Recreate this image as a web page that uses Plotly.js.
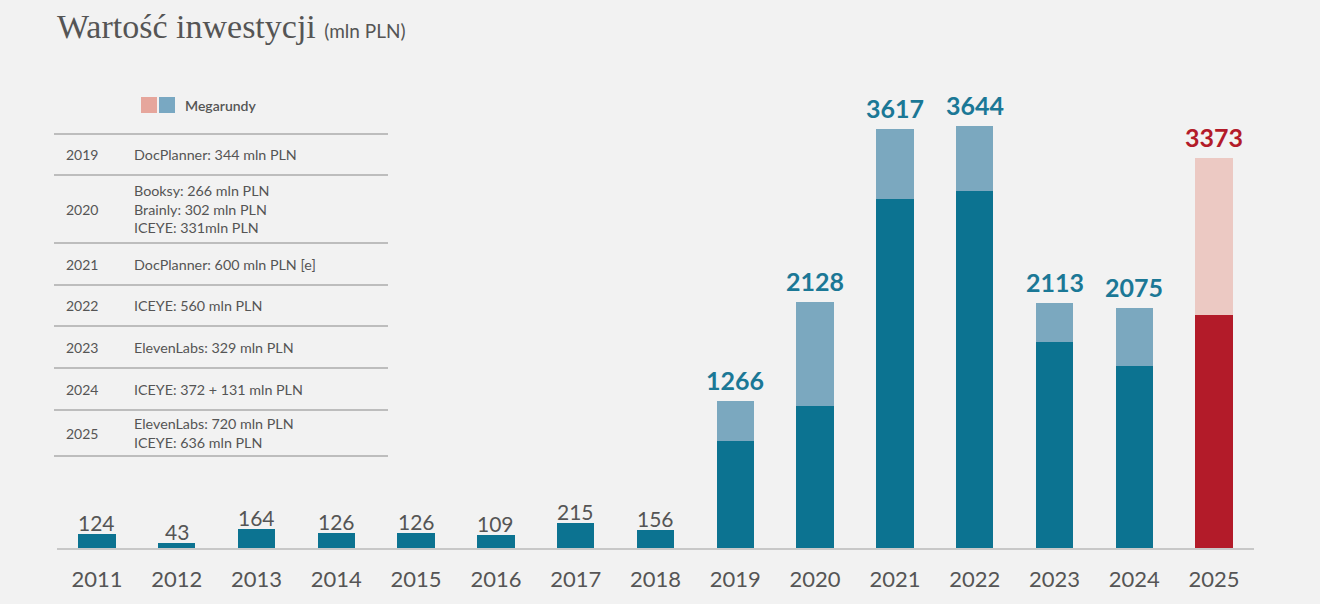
<!DOCTYPE html>
<html><head><meta charset="utf-8">
<script src="https://cdn.plot.ly/plotly-3.0.1.min.js"></script>
<style>html,body{margin:0;padding:0;background:#f2f2f2;}#chart{width:1320px;height:604px;}</style>
</head><body><div id="chart"></div>
<script>
// ---- data ----
const years = ['2011','2012','2013','2014','2015','2016','2017','2018','2019','2020','2021','2022','2023','2024','2025'];
const totals = [124, 43, 164, 126, 126, 109, 215, 156, 1266, 2128, 3617, 3644, 2113, 2075, 3373];
const megarounds = [0, 0, 0, 0, 0, 0, 0, 0, 344, 899, 600, 560, 329, 503, 1356];
const tableYears = ['2019','2020','2021','2022','2023','2024','2025'];
const tableTexts = [
  'DocPlanner: 344 mln PLN',
  'Booksy: 266 mln PLN<br>Brainly: 302 mln PLN<br>ICEYE: 331mln PLN',
  'DocPlanner: 600 mln PLN [e]',
  'ICEYE: 560 mln PLN',
  'ElevenLabs: 329 mln PLN',
  'ICEYE: 372 + 131 mln PLN',
  'ElevenLabs: 720 mln PLN<br>ICEYE: 636 mln PLN'
];
const titleText = 'Wartość inwestycji';
const titleUnit = '(mln PLN)';
const legendLabel = 'Megarundy';

// ---- styles ----
const DARK = '#0c7391', LIGHT = '#7ba8bf', RED = '#b31b29', LRED = '#ecc9c3';
const GREY = '#555555';
const base = totals.map((t, i) => t - megarounds[i]);
const isLast = years.map((y, i) => i === years.length - 1);
const isBig = totals.map(t => t >= 1000);

// pixel -> paper helpers (plot area: x 57..1254, y 85..548)
const L = 57, R = 1254, T = 85, B = 548;
const px = x => (x - L) / (R - L);
const py = y => (B - y) / (B - T);

const traces = [
  {type: 'bar', x: years, y: base, width: 0.47,
   marker: {color: isLast.map(l => l ? RED : DARK)}, hoverinfo: 'skip'},
  {type: 'bar', x: years, y: megarounds, width: 0.47,
   marker: {color: isLast.map(l => l ? LRED : LIGHT)}, hoverinfo: 'skip'}
];

const shapes = [];
const annotations = [];
// value labels above bars
years.forEach((yr, i) => {
  annotations.push({xref: 'x', yref: 'y', x: i, y: totals[i], xanchor: 'center', yanchor: 'bottom',
    yshift: isBig[i] ? 4 : -3, showarrow: false, text: String(totals[i]),
    font: {family: 'Lato', size: isBig[i] ? 25 : 21, weight: isBig[i] ? 700 : 400,
      color: isLast[i] ? RED : (isBig[i] ? '#1b7896' : GREY)}});
});
// title
annotations.push({xref: 'paper', yref: 'paper', x: px(55), y: py(27), xanchor: 'left', yanchor: 'middle',
  showarrow: false, text: titleText + ' <span style="font-family:Lato;font-size:19px">' + titleUnit + '</span>',
  font: {family: 'Liberation Serif', size: 34, color: GREY}});
// legend swatches
shapes.push({type: 'rect', xref: 'paper', yref: 'paper', x0: px(141), x1: px(157), y0: py(113), y1: py(97), fillcolor: '#e6a69c', line: {width: 0}});
shapes.push({type: 'rect', xref: 'paper', yref: 'paper', x0: px(159), x1: px(175), y0: py(113), y1: py(97), fillcolor: '#79a8c2', line: {width: 0}});
annotations.push({xref: 'paper', yref: 'paper', x: px(183), y: py(105), xanchor: 'left', yanchor: 'middle',
  showarrow: false, text: legendLabel, font: {family: 'Lato', size: 14, color: GREY, weight: 600}});
// table
const lineYs = [134, 175, 243, 285, 326, 368, 410, 456];
lineYs.forEach(y => shapes.push({type: 'line', xref: 'paper', yref: 'paper', x0: px(54), x1: px(388), y0: py(y), y1: py(y), line: {color: '#bdbdbd', width: 2}}));
tableYears.forEach((yr, i) => {
  const cy = (lineYs[i] + lineYs[i + 1]) / 2;
  annotations.push({xref: 'paper', yref: 'paper', x: px(64), y: py(cy), xanchor: 'left', yanchor: 'middle',
    showarrow: false, text: yr, font: {family: 'Lato', size: 14, color: GREY}});
  annotations.push({xref: 'paper', yref: 'paper', x: px(132), y: py(cy), xanchor: 'left', yanchor: 'middle', align: 'left',
    showarrow: false, text: tableTexts[i], font: {family: 'Lato', size: 14.3, color: GREY}});
});

const layout = {
  width: 1320, height: 604,
  paper_bgcolor: '#f2f2f2', plot_bgcolor: '#f2f2f2',
  margin: {l: L, r: 1320 - R, t: T, b: 604 - B},
  barmode: 'stack', showlegend: false,
  xaxis: {type: 'category', range: [-0.5, 14.5], showline: true, linecolor: '#c8c8c8', linewidth: 1.5,
    ticks: '', showgrid: false, zeroline: false, ticklabelstandoff: 11,
    tickfont: {family: 'Lato', size: 22, color: GREY}},
  yaxis: {range: [0, 4000], showticklabels: false, showline: false, ticks: '', showgrid: false, zeroline: false},
  shapes: shapes, annotations: annotations
};
Plotly.newPlot('chart', traces, layout, {displayModeBar: false, staticPlot: true});
</script></body></html>
